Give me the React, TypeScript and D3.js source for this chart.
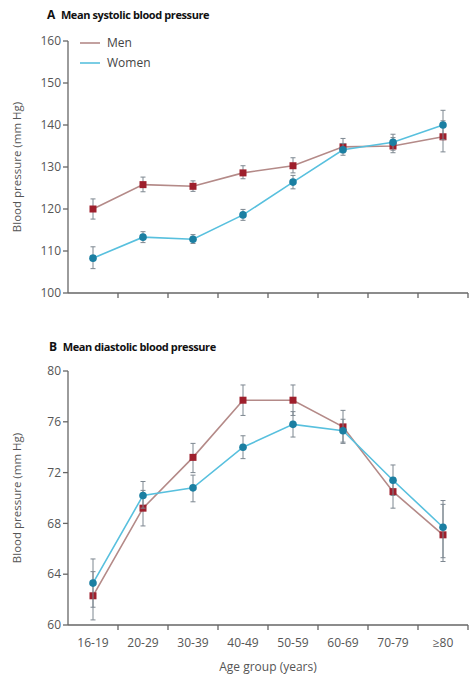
import * as d3 from "d3";

// age groups (x categories)
const ageGroups = ["16-19", "20-29", "30-39", "40-49", "50-59", "60-69", "70-79", "≥80"];

// systolic (panel A)
const sysMen = [120.0, 125.8, 125.4, 128.6, 130.3, 134.8, 135.0, 137.2];
const sysMenLo = [117.6, 124.1, 124.2, 127.2, 128.6, 133.4, 133.4, 133.6];
const sysMenHi = [122.4, 127.6, 126.7, 130.3, 132.2, 136.8, 137.0, 141.0];
const sysWomen = [108.3, 113.3, 112.8, 118.6, 126.4, 134.1, 135.9, 140.0];
const sysWomenLo = [105.8, 112.0, 111.8, 117.3, 124.8, 132.8, 134.0, 136.5];
const sysWomenHi = [111.0, 114.6, 113.9, 119.9, 128.0, 135.6, 137.8, 143.5];

// diastolic (panel B)
const diaMen = [62.3, 69.2, 73.2, 77.7, 77.7, 75.6, 70.5, 67.1];
const diaMenLo = [60.4, 67.8, 72.0, 76.5, 76.5, 74.4, 69.2, 65.0];
const diaMenHi = [64.2, 70.6, 74.3, 78.9, 78.9, 76.9, 71.6, 69.5];
const diaWomen = [63.3, 70.2, 70.8, 74.0, 75.8, 75.3, 71.4, 67.7];
const diaWomenLo = [61.4, 69.2, 69.7, 73.1, 74.8, 74.3, 70.2, 65.3];
const diaWomenHi = [65.2, 71.3, 71.8, 74.9, 76.8, 76.2, 72.6, 69.8];

const sysTicks = [100, 110, 120, 130, 140, 150, 160];
const diaTicks = [60, 64, 68, 72, 76, 80];

const MEN_LINE = "#b48a88";
const MEN_MARK = "#9e1f2c";
const WOMEN_LINE = "#58c0de";
const WOMEN_MARK = "#1b7fa2";
const AXIS = "#666";
const FONT = "'Liberation Sans Narrow', 'Arial Narrow', 'Open Sans', sans-serif";

const W = 469;
const H = 678;
const left = 68;
const right = 468;

const x = d3.scaleBand<string>().domain(ageGroups).range([left, right]);
const cx = (g: string) => (x(g) ?? 0) + x.bandwidth() / 2;

type Series = { v: number[]; lo: number[]; hi: number[]; line: string; mark: string; shape: "square" | "circle" };

function Panel({
  y,
  ticks,
  series,
  showLabels,
}: {
  y: d3.ScaleLinear<number, number>;
  ticks: number[];
  series: Series[];
  showLabels: boolean;
}) {
  const [y0, y1] = y.range();
  const line = d3
    .line<number>()
    .x((_, i) => cx(ageGroups[i]))
    .y((d) => y(d));
  return (
    <g>
      {/* y axis */}
      <line x1={left} x2={left} y1={y1} y2={y0} stroke={AXIS} strokeWidth={1.3} />
      {ticks.map((t) => (
        <g key={t}>
          <line x1={left - 5} x2={left} y1={y(t)} y2={y(t)} stroke={AXIS} strokeWidth={1.3} />
          <text x={left - 7} y={y(t)} dy="0.35em" textAnchor="end" fontSize={12} fill="#555" fontFamily={FONT}>
            {t}
          </text>
        </g>
      ))}
      {/* x axis */}
      <line x1={left} x2={right} y1={y0} y2={y0} stroke={AXIS} strokeWidth={1.3} />
      {ageGroups.map((g) => (
        <g key={g}>
          <line
            x1={(x(g) ?? 0) + x.bandwidth()}
            x2={(x(g) ?? 0) + x.bandwidth()}
            y1={y0}
            y2={y0 + 5}
            stroke={AXIS}
            strokeWidth={1.3}
          />
          {showLabels && (
            <text x={cx(g)} y={y0 + 18} dy="0.35em" textAnchor="middle" fontSize={12} fill="#555" fontFamily={FONT}>
              {g}
            </text>
          )}
        </g>
      ))}
      {series.map((s, si) => (
        <g key={si}>
          <path d={line(s.v) ?? ""} fill="none" stroke={s.line} strokeWidth={1.6} />
          {s.v.map((v, i) => {
            const px = cx(ageGroups[i]);
            return (
              <g key={i}>
                <line x1={px} x2={px} y1={y(s.lo[i])} y2={y(s.hi[i])} stroke="#7d8790" strokeWidth={1} />
                <line x1={px - 2.5} x2={px + 2.5} y1={y(s.lo[i])} y2={y(s.lo[i])} stroke="#7d8790" strokeWidth={1} />
                <line x1={px - 2.5} x2={px + 2.5} y1={y(s.hi[i])} y2={y(s.hi[i])} stroke="#7d8790" strokeWidth={1} />
                {s.shape === "square" ? (
                  <rect x={px - 3.5} y={y(v) - 3.5} width={7} height={7} fill={s.mark} />
                ) : (
                  <circle cx={px} cy={y(v)} r={3.8} fill={s.mark} />
                )}
              </g>
            );
          })}
        </g>
      ))}
    </g>
  );
}

export default function App() {
  const ySys = d3.scaleLinear().domain([100, 160]).range([293, 41]);
  const yDia = d3.scaleLinear().domain([60, 80]).range([625, 371]);

  const sysSeries: Series[] = [
    { v: sysMen, lo: sysMenLo, hi: sysMenHi, line: MEN_LINE, mark: MEN_MARK, shape: "square" },
    { v: sysWomen, lo: sysWomenLo, hi: sysWomenHi, line: WOMEN_LINE, mark: WOMEN_MARK, shape: "circle" },
  ];
  const diaSeries: Series[] = [
    { v: diaMen, lo: diaMenLo, hi: diaMenHi, line: MEN_LINE, mark: MEN_MARK, shape: "square" },
    { v: diaWomen, lo: diaWomenLo, hi: diaWomenHi, line: WOMEN_LINE, mark: WOMEN_MARK, shape: "circle" },
  ];

  return (
    <svg
      width={W}
      height={H}
      style={{ position: "absolute", left: 0, top: 0, background: "#fff" }}
      fontFamily={FONT}
    >
      <rect width={W} height={H} fill="#fff" />
      {/* titles */}
      <text x={47} y={19} fontSize={12} fontWeight="bold" fill="#111" letterSpacing={-0.4}>
        <tspan>A</tspan>
        <tspan dx={6} fontSize={11}>Mean systolic blood pressure</tspan>
      </text>
      <text x={49} y={351} fontSize={12} fontWeight="bold" fill="#111" letterSpacing={-0.4}>
        <tspan>B</tspan>
        <tspan dx={6} fontSize={11}>Mean diastolic blood pressure</tspan>
      </text>

      {/* legend */}
      <line x1={80} x2={100} y1={43} y2={43} stroke={MEN_LINE} strokeWidth={1.6} />
      <text x={107} y={43} dy="0.35em" fontSize={12} fill="#444">Men</text>
      <line x1={80} x2={100} y1={63} y2={63} stroke={WOMEN_LINE} strokeWidth={1.6} />
      <text x={107} y={63} dy="0.35em" fontSize={12} fill="#444">Women</text>

      {/* y labels */}
      <text transform={`translate(21,${(293 + 41) / 2}) rotate(-90)`} textAnchor="middle" fontSize={11.5} fill="#555">
        Blood pressure (mm Hg)
      </text>
      <text transform={`translate(21,${(625 + 371) / 2}) rotate(-90)`} textAnchor="middle" fontSize={11.5} fill="#555">
        Blood pressure (mm Hg)
      </text>

      <Panel y={ySys} ticks={sysTicks} series={sysSeries} showLabels={false} />
      <Panel y={yDia} ticks={diaTicks} series={diaSeries} showLabels={true} />

      <text x={(left + right) / 2} y={667} dy="0.35em" textAnchor="middle" fontSize={12} fill="#555">
        Age group (years)
      </text>
    </svg>
  );
}
